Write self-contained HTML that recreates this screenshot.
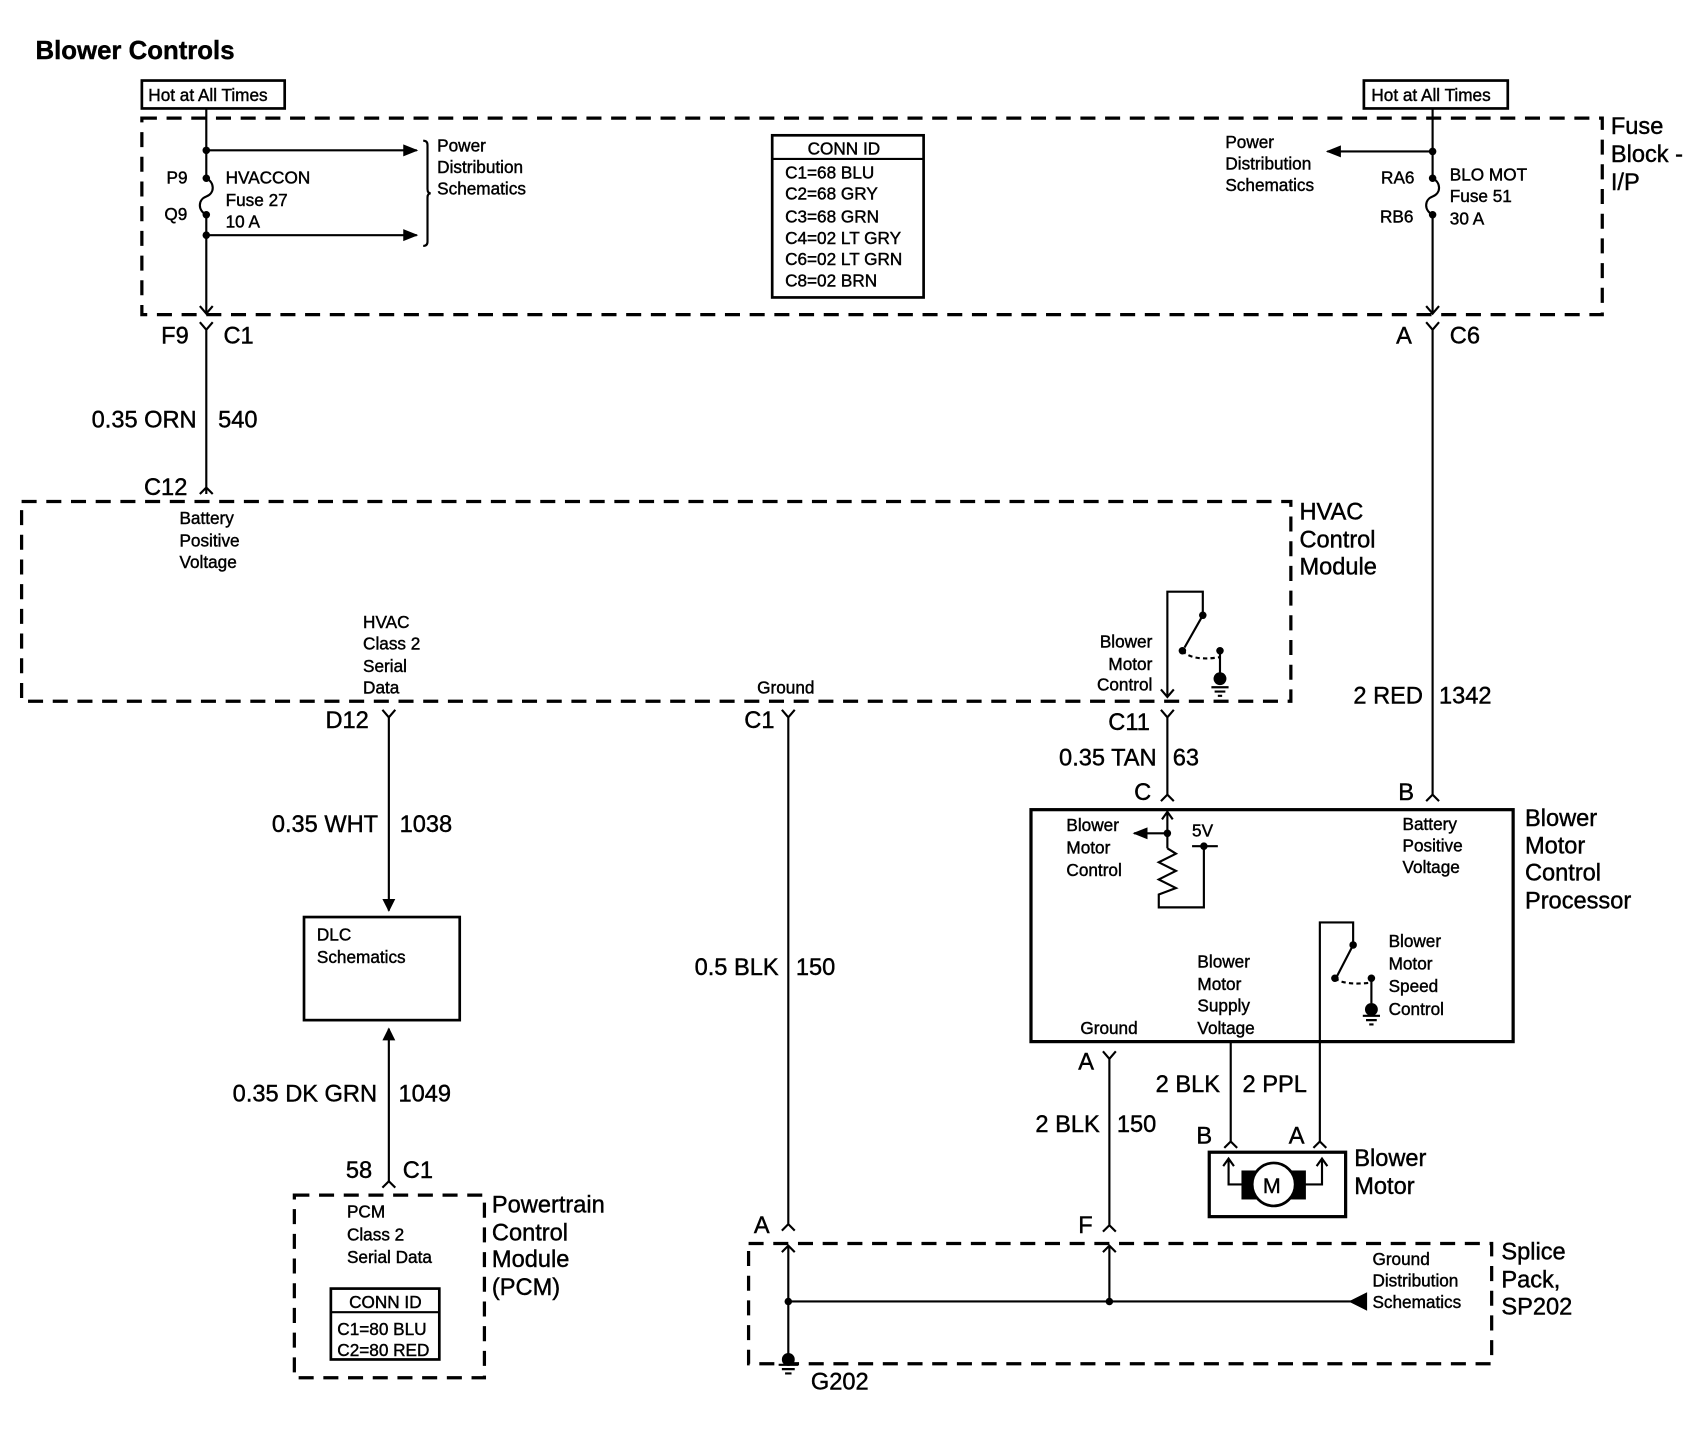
<!DOCTYPE html>
<html><head><meta charset="utf-8"><style>
html,body{margin:0;padding:0;background:#fff;}
svg{display:block;}
text{font-family:"Liberation Sans",Arial,sans-serif;fill:#000;stroke:#000;stroke-width:0.4;}
.s{font-size:16px;}
.l{font-size:22px;}
</style></head><body>
<svg width="1684" height="1440" viewBox="0 0 1568 1341" xmlns="http://www.w3.org/2000/svg">
<defs>
<marker id="fa" viewBox="0 0 10 10" refX="9" refY="5" markerWidth="12" markerHeight="12" markerUnits="userSpaceOnUse" orient="auto"><path d="M0,0 L10,5 L0,10 z" fill="#000"/></marker>
<marker id="fb" viewBox="0 0 10 10" refX="9" refY="5" markerWidth="14" markerHeight="14" markerUnits="userSpaceOnUse" orient="auto"><path d="M0,1 L10,5 L0,9 z" fill="#000"/></marker>
</defs>
<g fill="none" stroke="#000" stroke-width="2">
<g stroke-width="3" stroke-dasharray="14,9">
<rect x="132" y="110" width="1360" height="183"/>
<rect x="20" y="467" width="1182" height="186"/>
<rect x="274" y="1113" width="177" height="170"/>
<rect x="697" y="1158" width="692" height="112"/>
</g>
<rect x="132" y="75" width="133" height="26" stroke-width="2.5"/>
<rect x="1270" y="75" width="134" height="26" stroke-width="2.5"/>
<rect x="719" y="126" width="141" height="151" stroke-width="2.5"/>
<line x1="719" y1="148" x2="860" y2="148"/>
<rect x="308" y="1200" width="101" height="66" stroke-width="2.5"/>
<line x1="308" y1="1222" x2="409" y2="1222"/>
<path d="M192,101 V163 M192,203 V292"/>
<path d="M192,166 C200,170 200,180 192,183 C184,186 184,196 192,200"/>
<path d="M186,285 L192,292 L198,285"/>
<line x1="192" y1="140" x2="388" y2="140" marker-end="url(#fb)"/>
<line x1="192" y1="219" x2="388" y2="219" marker-end="url(#fb)"/>
<path d="M394,131 Q398,131 398,135 V176 Q398,180 401,180 Q398,180 398,184 V225 Q398,229 394,229"/>
<path d="M1334,101 V163 M1334,203 V292"/>
<path d="M1334,166 C1342,170 1342,180 1334,183 C1326,186 1326,196 1334,200"/>
<path d="M1328,285 L1334,292 L1340,285"/>
<line x1="1334" y1="141" x2="1236" y2="141" marker-end="url(#fb)"/>
<path d="M186,300 L192,307 L198,300 M192,307 V460 M186,460 L192,454 L198,460"/>
<path d="M1328,300 L1334,307 L1340,300 M1334,307 V740 M1328,746 L1334,740 L1340,746"/>
<path d="M1087,648 V551 H1120 V573 M1120,573 L1103,603"/>
<path d="M1081,642 L1087,649 L1093,642"/>
<path d="M1101,606 Q1110,616 1136,612" stroke-dasharray="4,3"/>
<path d="M1136,606 V628"/>
<path d="M1128,640 H1144 M1131,644 H1141 M1134,648 H1138"/>
<path d="M356,661 L362,668 L368,661"/>
<line x1="362" y1="668" x2="362" y2="848" marker-end="url(#fa)"/>
<path d="M728,661 L734,668 L740,661 M734,668 V1140 M728,1146 L734,1140 L740,1146"/>
<path d="M1081,661 L1087,668 L1093,661 M1087,668 V740 M1081,746 L1087,740 L1093,746"/>
<rect x="283" y="854" width="145" height="96" stroke-width="2.5"/>
<line x1="362" y1="1100" x2="362" y2="958" marker-end="url(#fa)"/>
<path d="M356,1106 L362,1100 L368,1106"/>
<rect x="960" y="754" width="449" height="216" stroke-width="3"/>
<path d="M1087,754 V790 M1082,763 L1087,756 L1092,763"/>
<line x1="1087" y1="776" x2="1056" y2="776" marker-end="url(#fb)"/>
<path d="M1087,790 L1095,795 L1079,803 L1095,811 L1079,819 L1095,827 L1079,833 V845 H1121 V788 M1110,788 H1134"/>
<path d="M1229,970 V859 H1260 V880 L1245,909"/>
<path d="M1243,911 Q1252,918 1277,915" stroke-dasharray="4,3"/>
<path d="M1277,911 V934 M1269,946 H1285 M1272,950 H1282 M1275,954 H1279"/>
<path d="M1027,979 L1033,986 L1039,979 M1033,986 V1141 M1027,1147 L1033,1141 L1039,1147"/>
<path d="M1146,970 V1063 M1140,1069 L1146,1063 L1152,1069"/>
<path d="M1229,970 V1063 M1223,1069 L1229,1063 L1235,1069"/>
<rect x="1126" y="1073" width="127" height="60" stroke-width="3"/>
<path d="M1144,1080 V1103 H1160 M1231,1080 V1103 H1214 M1139,1086 L1144,1079 L1149,1086 M1226,1086 L1231,1079 L1236,1086"/>
<rect x="1156" y="1090" width="60" height="27" fill="#000" stroke="none"/>
<circle cx="1186" cy="1103" r="20" fill="#fff" stroke-width="2.5"/>
<path d="M734,1160 V1265 M728,1166 L734,1160 L740,1166 M1033,1160 V1212 M1027,1166 L1033,1160 L1039,1166"/>
<line x1="1272" y1="1212" x2="734" y2="1212"/>
<path d="M1272,1205 L1258,1212 L1272,1219 z" fill="#000"/>
<path d="M725,1271 H743 M728,1275 H740 M731,1279 H737"/>
</g>
<g fill="#000">
<circle cx="192" cy="140" r="3.5"/><circle cx="192" cy="166" r="3.5"/><circle cx="192" cy="200" r="3.5"/><circle cx="192" cy="219" r="3.5"/>
<circle cx="1334" cy="141" r="3.5"/><circle cx="1334" cy="166" r="3.5"/><circle cx="1334" cy="200" r="3.5"/>
<circle cx="1120" cy="573" r="3.5"/><circle cx="1101" cy="606" r="3.5"/><circle cx="1136" cy="606" r="3.5"/><circle cx="1136" cy="632" r="6"/>
<circle cx="1087" cy="776" r="3.5"/><circle cx="1121" cy="788" r="3.5"/>
<circle cx="1260" cy="880" r="3.5"/><circle cx="1243" cy="911" r="3.5"/><circle cx="1277" cy="911" r="3.5"/><circle cx="1277" cy="940" r="6"/>
<circle cx="734" cy="1212" r="3.5"/><circle cx="1033" cy="1212" r="3.5"/><circle cx="734" cy="1266" r="6"/>
</g>
<text x="33" y="55" style="font-size:24px;font-weight:bold">Blower Controls</text>
<text x="138" y="94" class="s">Hot at All Times</text>
<text x="1277" y="94" class="s">Hot at All Times</text>
<text class="s"><tspan x="407" y="141">Power</tspan><tspan x="407" y="161">Distribution</tspan><tspan x="407" y="181">Schematics</tspan></text>
<text class="s" x="155" y="171">P9</text><text class="s" x="153" y="205">Q9</text>
<text class="s"><tspan x="210" y="171">HVACCON</tspan><tspan x="210" y="192">Fuse 27</tspan><tspan x="210" y="212">10 A</tspan></text>
<text class="s" x="752" y="144">CONN ID</text>
<text class="s"><tspan x="731" y="166">C1=68 BLU</tspan><tspan x="731" y="186">C2=68 GRY</tspan><tspan x="731" y="207">C3=68 GRN</tspan><tspan x="731" y="227">C4=02 LT GRY</tspan><tspan x="731" y="247">C6=02 LT GRN</tspan><tspan x="731" y="267">C8=02 BRN</tspan></text>
<text class="s"><tspan x="1141" y="138">Power</tspan><tspan x="1141" y="158">Distribution</tspan><tspan x="1141" y="178">Schematics</tspan></text>
<text class="s" x="1286" y="171">RA6</text><text class="s" x="1285" y="207">RB6</text>
<text class="s"><tspan x="1350" y="168">BLO MOT</tspan><tspan x="1350" y="188">Fuse 51</tspan><tspan x="1350" y="209">30 A</tspan></text>
<text class="l"><tspan x="1500" y="125">Fuse</tspan><tspan x="1500" y="151">Block -</tspan><tspan x="1500" y="177">I/P</tspan></text>
<text class="l" x="150" y="320">F9</text><text class="l" x="208" y="320">C1</text>
<text class="l" x="1300" y="320">A</text><text class="l" x="1350" y="320">C6</text>
<text class="l" x="183" y="398" text-anchor="end">0.35 ORN</text><text class="l" x="203" y="398">540</text>
<text class="l" x="134" y="461">C12</text>
<text class="l"><tspan x="1210" y="484">HVAC</tspan><tspan x="1210" y="510">Control</tspan><tspan x="1210" y="535">Module</tspan></text>
<text class="s"><tspan x="167" y="488">Battery</tspan><tspan x="167" y="509">Positive</tspan><tspan x="167" y="529">Voltage</tspan></text>
<text class="s"><tspan x="338" y="585">HVAC</tspan><tspan x="338" y="605">Class 2</tspan><tspan x="338" y="626">Serial</tspan><tspan x="338" y="646">Data</tspan></text>
<text class="s" x="705" y="646">Ground</text>
<text class="s" text-anchor="end"><tspan x="1073" y="603">Blower</tspan><tspan x="1073" y="624">Motor</tspan><tspan x="1073" y="643">Control</tspan></text>
<text class="l" x="303" y="678">D12</text><text class="l" x="693" y="678">C1</text><text class="l" x="1032" y="680">C11</text>
<text class="l" x="352" y="775" text-anchor="end">0.35 WHT</text><text class="l" x="372" y="775">1038</text>
<text class="l" x="1077" y="713" text-anchor="end">0.35 TAN</text><text class="l" x="1092" y="713">63</text>
<text class="l" x="1325" y="655" text-anchor="end">2 RED</text><text class="l" x="1340" y="655">1342</text>
<text class="l" x="1056" y="745">C</text><text class="l" x="1302" y="745">B</text>
<text class="l"><tspan x="1420" y="769">Blower</tspan><tspan x="1420" y="795">Motor</tspan><tspan x="1420" y="820">Control</tspan><tspan x="1420" y="846">Processor</tspan></text>
<text class="s"><tspan x="993" y="774">Blower</tspan><tspan x="993" y="795">Motor</tspan><tspan x="993" y="816">Control</tspan></text>
<text class="s" x="1110" y="779">5V</text>
<text class="s"><tspan x="1306" y="773">Battery</tspan><tspan x="1306" y="793">Positive</tspan><tspan x="1306" y="813">Voltage</tspan></text>
<text class="s"><tspan x="1293" y="882">Blower</tspan><tspan x="1293" y="903">Motor</tspan><tspan x="1293" y="924">Speed</tspan><tspan x="1293" y="945">Control</tspan></text>
<text class="s"><tspan x="1115" y="901">Blower</tspan><tspan x="1115" y="922">Motor</tspan><tspan x="1115" y="942">Supply</tspan><tspan x="1115" y="963">Voltage</tspan></text>
<text class="s" x="1006" y="963">Ground</text>
<text class="s"><tspan x="295" y="876">DLC</tspan><tspan x="295" y="897">Schematics</tspan></text>
<text class="l" x="725" y="908" text-anchor="end">0.5 BLK</text><text class="l" x="741" y="908">150</text>
<text class="l" x="1004" y="996">A</text>
<text class="l" x="1136" y="1017" text-anchor="end">2 BLK</text><text class="l" x="1157" y="1017">2 PPL</text>
<text class="l" x="1024" y="1054" text-anchor="end">2 BLK</text><text class="l" x="1040" y="1054">150</text>
<text class="l" x="1114" y="1065">B</text><text class="l" x="1200" y="1065">A</text>
<text x="1176" y="1111" style="font-size:20px">M</text>
<text class="l"><tspan x="1261" y="1086">Blower</tspan><tspan x="1261" y="1112">Motor</tspan></text>
<text class="l" x="351" y="1026" text-anchor="end">0.35 DK GRN</text><text class="l" x="371" y="1026">1049</text>
<text class="l" x="322" y="1097">58</text><text class="l" x="375" y="1097">C1</text>
<text class="l"><tspan x="458" y="1129">Powertrain</tspan><tspan x="458" y="1155">Control</tspan><tspan x="458" y="1180">Module</tspan><tspan x="458" y="1206">(PCM)</tspan></text>
<text class="s"><tspan x="323" y="1134">PCM</tspan><tspan x="323" y="1155">Class 2</tspan><tspan x="323" y="1176">Serial Data</tspan></text>
<text class="s" x="325" y="1218">CONN ID</text>
<text class="s"><tspan x="314" y="1243">C1=80 BLU</tspan><tspan x="314" y="1263">C2=80 RED</tspan></text>
<text class="l" x="702" y="1148">A</text><text class="l" x="1004" y="1148">F</text>
<text class="s"><tspan x="1278" y="1178">Ground</tspan><tspan x="1278" y="1198">Distribution</tspan><tspan x="1278" y="1218">Schematics</tspan></text>
<text class="l"><tspan x="1398" y="1173">Splice</tspan><tspan x="1398" y="1199">Pack,</tspan><tspan x="1398" y="1224">SP202</tspan></text>
<text class="l" x="755" y="1294">G202</text>
</svg>
</body></html>
